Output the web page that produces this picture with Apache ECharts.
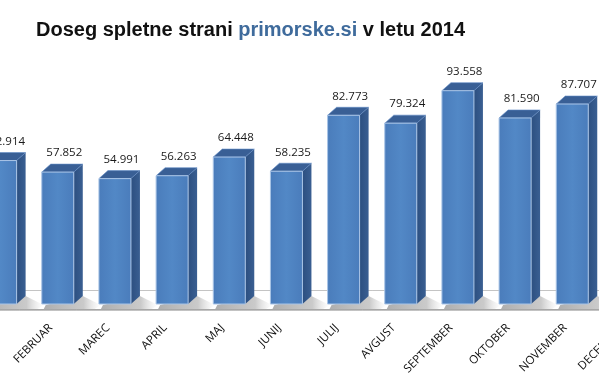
<!DOCTYPE html>
<html>
<head>
<meta charset="utf-8">
<script src="https://cdn.jsdelivr.net/npm/echarts@6/dist/echarts.min.js"></script>
<style>
html,body{margin:0;padding:0;background:#fff;overflow:hidden;width:599px;height:390px;position:relative;}
#chart{width:693px;height:390px;position:absolute;left:-42px;top:0;}
</style>
</head>
<body>
<div id="chart"></div>
<script>
const categories = ['JANUAR','FEBRUAR','MAREC','APRIL','MAJ','JUNIJ','JULIJ','AVGUST','SEPTEMBER','OKTOBER','NOVEMBER','DECEMBER'];
const values = [62.914, 57.852, 54.991, 56.263, 64.448, 58.235, 82.773, 79.324, 93.558, 81.590, 87.707, 84.120];
const valueLabels = ['62.914','57.852','54.991','56.263','64.448','58.235','82.773','79.324','93.558','81.590','87.707','84.120'];

const chart = echarts.init(document.getElementById('chart'), null, {renderer:'canvas'});

const DX = 9, DY = 8;
function renderBar(params, api) {
  const i = api.value(0);
  const v = api.value(1);
  const base = api.coord([i, 0]);
  const top = api.coord([i, v]);
  const band = api.size([1, 0])[0];
  const w = band * 0.56;
  const cx = base[0] + 7;
  const x0 = cx - w / 2;
  const x1 = x0 + w;
  const yb = base[1];
  const yt = top[1];
  const children = [];
  children.push({
    type: 'rect', shape: {x: base[0] - band/2 + 7, y: yb - 14, width: band + 0.5, height: 1},
    style: {fill: '#c4c4c4'}, silent: true
  });
  children.push({
    type: 'rect', shape: {x: base[0] - band/2 - 3, y: yb + 5, width: band + 0.5, height: 2},
    style: {fill: new echarts.graphic.LinearGradient(0,0,0,1,[{offset:0,color:'#9a9a9a'},{offset:1,color:'#d0d0d0'}])}, silent: true
  });
  children.push({
    type: 'polygon',
    shape: {points: [[x0 + 4, yb + 1], [x1 + DX, yb - DY], [x1 + DX + 18, yb + 1], [x1 + DX + 12, yb + 5], [x0 + 2, yb + 5]]},
    style: {fill: new echarts.graphic.LinearGradient(0,0,1,0,[{offset:0,color:'rgba(120,120,120,0.6)'},{offset:0.7,color:'rgba(150,150,150,0.5)'},{offset:1,color:'rgba(200,200,200,0)'}])},
    silent: true
  });
  children.push({
    type: 'polygon',
    shape: {points: [[x1, yt], [x1 + DX, yt - DY], [x1 + DX, yb - DY], [x1, yb]]},
    style: {fill: new echarts.graphic.LinearGradient(0,0,1,0,[{offset:0,color:'#2c4f80'},{offset:1,color:'#3a5f92'}])}
  });
  children.push({
    type: 'polygon',
    shape: {points: [[x0, yt], [x0 + DX, yt - DY], [x1 + DX, yt - DY], [x1, yt]]},
    style: {fill: '#395f95', stroke: '#5f8ac4', lineWidth: 0.6}
  });
  children.push({
    type: 'rect',
    shape: {x: x0, y: yt, width: w, height: yb - yt},
    style: {fill: new echarts.graphic.LinearGradient(0,0,1,0,[{offset:0,color:'#4a7cbb'},{offset:0.5,color:'#5288c6'},{offset:1,color:'#4a7cbb'}]), stroke: '#a9c4e6', lineWidth: 1}
  });
  children.push({
    type: 'text',
    style: {
      x: cx + DX / 2 + 2, y: yt - DY - 5,
      text: valueLabels[i],
      textAlign: 'center', textVerticalAlign: 'bottom',
      font: '11.5px "Open Sans", sans-serif', fill: '#1a1a1a'
    }
  });
  return {type: 'group', children};
}

chart.setOption({
  backgroundColor: '#ffffff',
  animation: false,
  title: {
    left: 73, top: 15,
    text: '{a|Doseg spletne strani }{b|primorske.si}{a| v letu 2014}',
    textStyle: {
      rich: {
        a: {fontFamily: 'Liberation Sans', fontWeight: 'bold', fontSize: 20, color: '#111111'},
        b: {fontFamily: 'Liberation Sans', fontWeight: 'bold', fontSize: 20, color: '#3f6b9c'}
      }
    }
  },
  grid: {left: 0, right: 0, top: 76, bottom: 86, containLabel: false},
  xAxis: {
    type: 'category', data: categories,
    axisLine: {show: false}, axisTick: {show: false},
    axisLabel: {rotate: 45, margin: 22, interval: 0, fontSize: 11.5, fontFamily: '"Open Sans", sans-serif', color: '#111111'}
  },
  yAxis: {type: 'value', min: 0, max: 100, show: false, splitLine: {show: false}},
  series: [{
    type: 'custom',
    renderItem: renderBar,
    data: values.map((v, i) => [i, v]),
    clip: false
  }]
});
</script>
</body>
</html>
